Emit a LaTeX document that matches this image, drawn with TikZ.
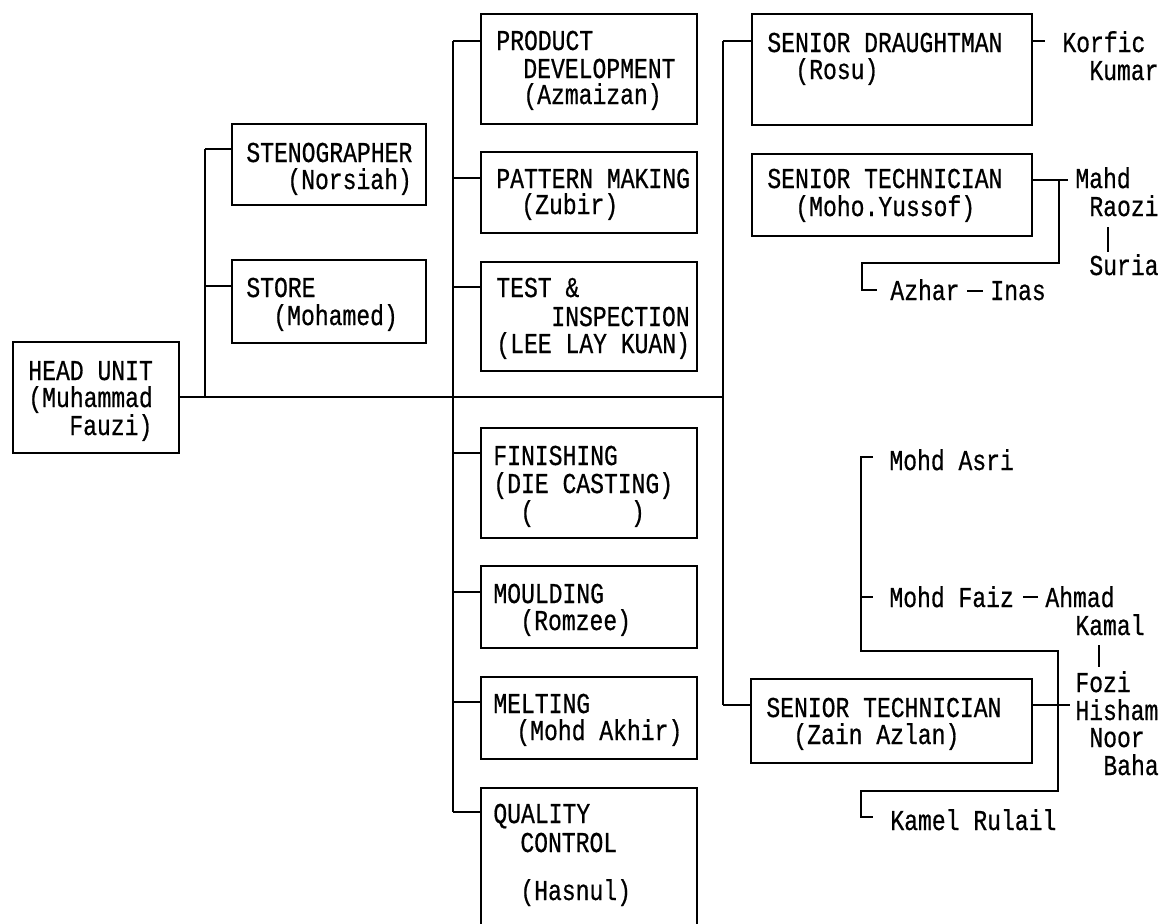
\documentclass[tikz,border=0pt]{standalone}
\usepackage{fontspec}
\newfontfamily\monof[FakeStretch=0.80,FakeBold=0.6]{Liberation Mono}
\begin{document}
\begin{tikzpicture}[x=0.5pt,y=-0.5pt,
  box/.style={draw, line width=1.1pt, anchor=north west, inner sep=0pt, minimum width=#1},
  box/.default=108pt,
  txt/.style={anchor=base west, inner sep=0pt, font=\monof\fontsize{14.4}{14}\selectfont},
  conn/.style={line width=0.8pt}]
\useasboundingbox (0,0) rectangle (1165,923);
% boxes
\node[box=83pt, minimum height=55.5pt] (head) at (12,341) {};
\node[box=97pt, minimum height=40.5pt] (steno) at (231,123) {};
\node[box=97pt, minimum height=41.5pt] (store) at (231,259) {};
\node[box, minimum height=55pt] (prod) at (480,13) {};
\node[box, minimum height=40.5pt] (patt) at (480,151) {};
\node[box, minimum height=54.5pt] (test) at (480,261) {};
\node[box, minimum height=55pt] (fin) at (480,427) {};
\node[box, minimum height=41pt] (mould) at (480,565) {};
\node[box, minimum height=41pt] (melt) at (480,676) {};
\node[box, minimum height=76pt] (qc) at (480,787) {};
\node[box=140pt, minimum height=55.5pt] (draught) at (751,13) {};
\node[box=140pt, minimum height=41pt] (tech1) at (751,153) {};
\node[box=140.5pt, minimum height=42pt] (zain) at (750,678) {};
% texts
\node[txt] (t1) at (28,380) {HEAD UNIT};
\node[txt] (t2) at (28,407) {(Muhammad};
\node[txt] (t3) at (69,435) {Fauzi)};
\node[txt] (t4) at (246,162) {STENOGRAPHER};
\node[txt] (t5) at (287,189) {(Norsiah)};
\node[txt] (t6) at (246,297) {STORE};
\node[txt] (t7) at (273,325) {(Mohamed)};
\node[txt] (t8) at (496,50) {PRODUCT};
\node[txt] (t9) at (523,78) {DEVELOPMENT};
\node[txt] (t10) at (523,104) {(Azmaizan)};
\node[txt] (t11) at (496,188) {PATTERN MAKING};
\node[txt] (t12) at (521,214) {(Zubir)};
\node[txt] (t13) at (496,297) {TEST \&};
\node[txt] (t14) at (551,326) {INSPECTION};
\node[txt] (t15) at (496,353) {(LEE LAY KUAN)};
\node[txt] (t16) at (493,465) {FINISHING};
\node[txt] (t17) at (493,493) {(DIE CASTING)};
\node[txt] (t18) at (520,521) {(\phantom{0000000})};
\node[txt] (t19) at (493,603) {MOULDING};
\node[txt] (t20) at (520,630) {(Romzee)};
\node[txt] (t21) at (493,713) {MELTING};
\node[txt] (t22) at (516,740) {(Mohd Akhir)};
\node[txt] (t23) at (493,823) {QUALITY};
\node[txt] (t24) at (520,852) {CONTROL};
\node[txt] (t25) at (520,900) {(Hasnul)};
\node[txt] (t26) at (767,52) {SENIOR DRAUGHTMAN};
\node[txt] (t27) at (795,79) {(Rosu)};
\node[txt] (korfic) at (1062,52) {Korfic};
\node[txt] (kumar) at (1089,80) {Kumar};
\node[txt] (t28) at (767,188) {SENIOR TECHNICIAN};
\node[txt] (t29) at (795,216) {(Moho.Yussof)};
\node[txt] (mahd) at (1075,188) {Mahd};
\node[txt] (raozi) at (1089,216) {Raozi};
\node[txt] (suria) at (1089,275) {Suria};
\node[txt] (azhar) at (890,300) {Azhar};
\node[txt] (inas) at (990,300) {Inas};
\node[txt] (t30) at (766,717) {SENIOR TECHNICIAN};
\node[txt] (t31) at (793,744) {(Zain Azlan)};
\node[txt] (asri) at (889,470) {Mohd Asri};
\node[txt] (faiz) at (889,607) {Mohd Faiz};
\node[txt] (ahmad) at (1045,607) {Ahmad};
\node[txt] (kamal) at (1075,635) {Kamal};
\node[txt] (fozi) at (1075,692) {Fozi};
\node[txt] (hisham) at (1075,720) {Hisham};
\node[txt] (noor) at (1089,747) {Noor};
\node[txt] (baha) at (1103,775) {Baha};
\node[txt] (rulail) at (890,830) {Kamel Rulail};
% bus coordinates
\coordinate (L0) at (205,397); \coordinate (L1) at (205,149); \coordinate (L2) at (205,286);
\coordinate (M0) at (453,397); \coordinate (M1) at (453,41); \coordinate (M2) at (453,178);
\coordinate (M3) at (453,287); \coordinate (M4) at (453,453); \coordinate (M5) at (453,592);
\coordinate (M6) at (453,702); \coordinate (M7) at (453,812);
\coordinate (R0) at (723,397); \coordinate (R1) at (723,41); \coordinate (R2) at (723,705);
% main connectors
\draw[conn] (head.east |- L0) -- (R0);
\draw[conn] (L1) -- (L0);
\draw[conn] (L1) -- (L1 -| steno.west);
\draw[conn] (L2) -- (L2 -| store.west);
\draw[conn] (M1) -- (M7);
\draw[conn] (M1) -- (M1 -| prod.west);
\draw[conn] (M2) -- (M2 -| patt.west);
\draw[conn] (M3) -- (M3 -| test.west);
\draw[conn] (M4) -- (M4 -| fin.west);
\draw[conn] (M5) -- (M5 -| mould.west);
\draw[conn] (M6) -- (M6 -| melt.west);
\draw[conn] (M7) -- (M7 -| qc.west);
\draw[conn] (R1) -- (R2);
\draw[conn] (R1) -- (R1 -| draught.west);
\draw[conn] (R2) -- (R2 -| zain.west);
% draughtman
\coordinate (K1) at (1045,41);
\draw[conn] (K1 -| draught.east) -- (K1);
% technician 1
\coordinate (T1) at (1068,180); \coordinate (T2) at (1059,263); \coordinate (T3) at (862,263);
\coordinate (T4) at (862,290); \coordinate (T5) at (877,290);
\draw[conn] (T1 -| tech1.east) -- (T1);
\draw[conn] (T2 |- T1) -- (T2) -- (T3) -- (T4) -- (T5);
\coordinate (S1) at (1108,227); \coordinate (S2) at (1108,252);
\draw[conn] (S1) -- (S2);
\coordinate (A1) at (967,291); \coordinate (A2) at (983,291);
\draw[conn] (A1) -- (A2);
% zain
\coordinate (Za) at (873,457); \coordinate (Zb) at (861,457); \coordinate (Zc) at (861,651);
\coordinate (Zd) at (1058,651); \coordinate (Ze) at (1058,791); \coordinate (Zf) at (861,791);
\coordinate (Zg) at (861,817); \coordinate (Zh) at (873,817);
\draw[conn] (Za) -- (Zb) -- (Zc) -- (Zd) -- (Ze) -- (Zf) -- (Zg) -- (Zh);
\coordinate (F1) at (861,597); \coordinate (F2) at (873,597);
\draw[conn] (F1) -- (F2);
\coordinate (Zi) at (1070,705);
\draw[conn] (Zi -| zain.east) -- (Zi);
\coordinate (D1) at (1023,597); \coordinate (D2) at (1038,597);
\draw[conn] (D1) -- (D2);
\coordinate (V1) at (1099,645); \coordinate (V2) at (1099,667);
\draw[conn] (V1) -- (V2);
\end{tikzpicture}
\end{document}
